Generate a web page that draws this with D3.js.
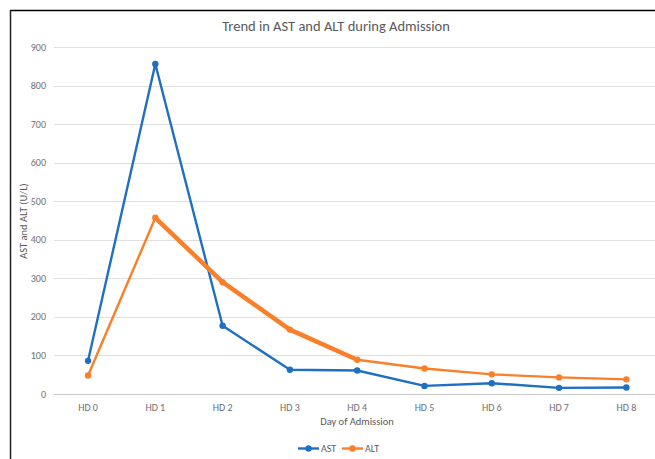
<!DOCTYPE html>
<html><head><meta charset="utf-8">
<script src="https://cdn.jsdelivr.net/npm/d3@7"></script>
<style>html,body{margin:0;padding:0;background:#fff;}svg{display:block;font-family:Carlito,"Open Sans","Liberation Sans",sans-serif;}</style>
</head><body>
<script>
const categories = ["HD 0","HD 1","HD 2","HD 3","HD 4","HD 5","HD 6","HD 7","HD 8"];
const astValues = [86, 856, 177, 63, 61, 21, 28, 16, 17];
const altValues = [48, 457, 290, 167, 89, 66, 51, 43, 38];
const yTicks = [0,100,200,300,400,500,600,700,800,900];
const thickAltSegment = [1, 4]; // index range drawn thicker in reference

const W = 655, H = 459;
const svg = d3.select("body").append("svg").attr("width", W).attr("height", H);

// chart border (top & left visible)
svg.append("line").attr("x1",10).attr("x2",W).attr("y1",10.5).attr("y2",10.5).attr("stroke","#000").attr("stroke-width",1.5);
svg.append("line").attr("x1",10.5).attr("x2",10.5).attr("y1",10).attr("y2",H).attr("stroke","#222").attr("stroke-width",1.5);

const x = d3.scaleBand().domain(categories).range([54.4, 660]);
const y = d3.scaleLinear().domain([0, 900]).range([394, 47]);
const cx = d => x(d) + x.bandwidth()/2;

// gridlines
svg.append("g").selectAll("line").data(yTicks).join("line")
  .attr("x1", 54).attr("x2", W).attr("y1", d => Math.round(y(d))+0.5).attr("y2", d => Math.round(y(d))+0.5)
  .attr("stroke", d => d===0 ? "#c8c8c8" : "#e0e0e0").attr("stroke-width", 1);

// y tick labels
svg.append("g").selectAll("text").data(yTicks).join("text")
  .attr("x", 46).attr("y", d => y(d)).attr("dy","0.35em").attr("text-anchor","end")
  .attr("font-size", 10).attr("fill","#6f6f6f").text(d => d);

// x tick labels
svg.append("g").selectAll("text").data(categories).join("text")
  .attr("x", d => cx(d)).attr("y", 410.5).attr("text-anchor","middle")
  .attr("font-size", 10).attr("fill","#6f6f6f").text(d => d);

// axis titles
svg.append("text").attr("x", 357).attr("y", 425).attr("text-anchor","middle")
  .attr("font-size", 10.5).attr("fill","#595959").text("Day of Admission");
svg.append("text").attr("transform","translate(27,221) rotate(-90)").attr("text-anchor","middle")
  .attr("font-size", 10.5).attr("fill","#595959").text("AST and ALT (U/L)");

// title
svg.append("text").attr("x", 336).attr("y", 31).attr("text-anchor","middle")
  .attr("font-size", 14.5).attr("fill","#595959").text("Trend in AST and ALT during Admission");

const astColor = "#1f6fc2", altColor = "#f97f2a";
const line = d3.line().x((d,i) => cx(categories[i])).y(d => y(d));

const series = [{name:"AST", vals:astValues, color:astColor},{name:"ALT", vals:altValues, color:altColor}];
series.forEach(s => {
  svg.append("path").attr("d", line(s.vals)).attr("fill","none").attr("stroke", s.color)
    .attr("stroke-width", 2.4).attr("stroke-linejoin","round");
  if (s.name === "ALT") {
    const seg = s.vals.map((v,i)=>({v,i})).filter(d => d.i>=thickAltSegment[0] && d.i<=thickAltSegment[1]);
    const segLine = d3.line().x(d => cx(categories[d.i])).y(d => y(d.v));
    svg.append("path").attr("d", segLine(seg)).attr("fill","none").attr("stroke", s.color)
      .attr("stroke-width", 4.5).attr("stroke-linejoin","round");
  }
  svg.append("g").selectAll("circle").data(s.vals).join("circle")
    .attr("cx",(d,i)=>cx(categories[i])).attr("cy", d=>y(d)).attr("r",3.2).attr("fill", s.color);
});

// legend
const leg = [{name:"AST", color:astColor, x:298},{name:"ALT", color:altColor, x:342}];
leg.forEach(l => {
  svg.append("line").attr("x1", l.x).attr("x2", l.x+21).attr("y1",448.5).attr("y2",448.5)
    .attr("stroke", l.color).attr("stroke-width", 2.4);
  svg.append("circle").attr("cx", l.x+10.5).attr("cy",448.5).attr("r",3.2).attr("fill", l.color);
  svg.append("text").attr("x", l.x+23).attr("y",448.5).attr("dy","0.35em")
    .attr("font-size", 10).attr("fill","#595959").text(l.name);
});
</script>
</body></html>
